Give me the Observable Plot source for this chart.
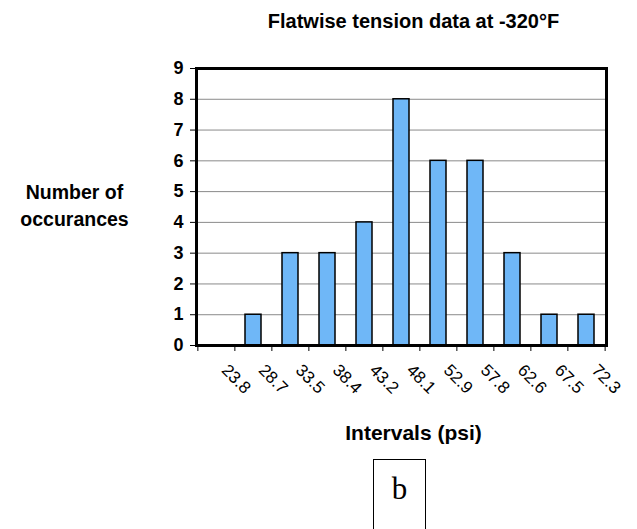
<!DOCTYPE html>
<html><head><meta charset="utf-8">
<script src="https://cdn.jsdelivr.net/npm/d3@7"></script>
<script src="https://cdn.jsdelivr.net/npm/@observablehq/plot@0.6"></script>
<style>
body{margin:0;background:#fff;}
#wrap{position:relative;width:637px;height:529px;overflow:hidden;}
#box{position:absolute;left:373px;top:459px;width:53px;height:90px;border:1.5px solid #000;box-sizing:border-box;font-family:"Liberation Serif","DejaVu Serif",serif;font-size:31px;text-align:center;line-height:1;padding-top:13px;}
</style></head><body><div id="wrap"></div>
<script>
const intervals = ["23.8","28.7","33.5","38.4","43.2","48.1","52.9","57.8","62.6","67.5","72.3"];
const counts = [0,1,3,3,4,8,6,6,3,1,1];
const yTicks = [0,1,2,3,4,5,6,7,8,9];
const title = "Flatwise tension data at -320°F";
const yLabel = ["Number of","occurances"];
const xLabel = "Intervals (psi)";
const panel = "b";

const W = 637, H = 529, mL = 196, mR = 31, mT = 68, mB = 184;
const step = (W - mL - mR) / intervals.length;
const data = intervals.map((k, i) => ({k, n: counts[i]}));
const font = '"Liberation Sans", Arial, Helvetica, sans-serif';

const chart = Plot.plot({
  width: W, height: H,
  marginLeft: mL, marginRight: mR, marginTop: mT, marginBottom: mB,
  style: {fontFamily: font, background: "white", overflow: "visible", color: "#000"},
  x: {type: "band", domain: intervals, paddingInner: 0.57, paddingOuter: 0.285},
  y: {domain: [0, 9]},
  marks: [
    Plot.gridY(yTicks, {stroke: "#8a8a8a", strokeOpacity: 1, strokeWidth: 1}),
    Plot.barY(data, {x: "k", y: "n", fill: "#6fb7f7", stroke: "#000", strokeWidth: 1.5}),
    Plot.frame({stroke: "#000", strokeWidth: 3}),
    Plot.axisY(yTicks, {tickSize: 6, tickPadding: 7, fontSize: 18, fontWeight: "bold", label: null, stroke: "#000"}),
    Plot.axisX(intervals, {tickSize: 6, tickFormat: () => "", dx: -step / 2, label: null, stroke: "#000"}),
    Plot.axisX([intervals[intervals.length - 1]], {tickSize: 6, tickFormat: () => "", dx: step / 2, label: null, stroke: "#000"}),
    Plot.axisX(intervals, {tickSize: 0, tickPadding: 14, tickRotate: 45, fontSize: 17, dx: 8, dy: 8, label: null}),
    Plot.text([title], {frameAnchor: "top", dy: -55, dx: 12, fontSize: 20, fontWeight: "bold"}),
    Plot.text([xLabel], {frameAnchor: "bottom", dy: 94, dx: 12, fontSize: 21, fontWeight: "bold"}),
    Plot.text([yLabel.join("\n")], {frameAnchor: "left", textAnchor: "middle", dx: -122, dy: -3, fontSize: 19.5, fontWeight: "bold", lineHeight: 1.4})
  ]
});
const wrap = document.getElementById("wrap");
wrap.appendChild(chart);
const box = document.createElement("div");
box.id = "box";
box.textContent = panel;
wrap.appendChild(box);
</script>
</body></html>
